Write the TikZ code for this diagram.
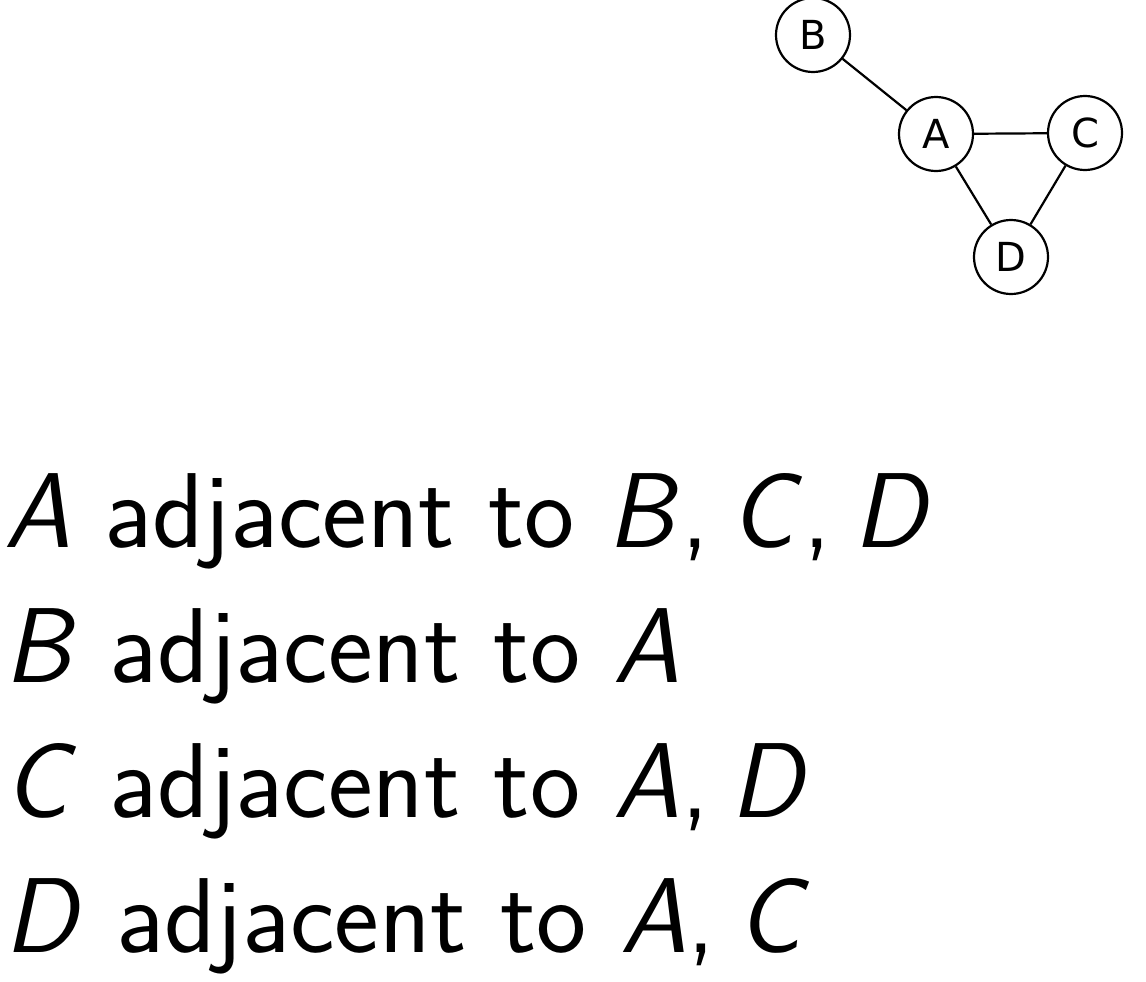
\documentclass[tikz,border=0pt]{standalone}
\usepackage{fontspec}
\setsansfont{Latin Modern Sans}
\newfontfamily\nodefont{DejaVu Sans}
\newcommand{\vx}[1]{{\itshape #1\/}}
\newcommand{\cm}{\kern1pt,\kern22pt}
\begin{document}
\begin{tikzpicture}[x=1pt,y=-1pt,
  vert/.style={circle,draw,line width=2.2pt,minimum size=74pt,inner sep=0pt,font=\nodefont\fontsize{40}{40}\selectfont},
  edge/.style={line width=2.2pt},
  txt/.style={anchor=base west,inner sep=0pt,font=\sffamily\fontsize{106.5}{128}\selectfont}]
\useasboundingbox (0,0) rectangle (1146,982);
\node[vert] (B) at (813,35) {B};
\node[vert] (A) at (936,134) {A};
\node[vert] (C) at (1085,133) {C};
\node[vert] (D) at (1011,257) {D};
\draw[edge] (B) -- (A);
\draw[edge] (A) -- (C);
\draw[edge] (A) -- (D);
\draw[edge] (C) -- (D);
\node[txt] (l1) at (4,547) {\vx{A} adjacent to \vx{B}\cm\vx{C}\cm\vx{D}};
\node[txt] (l2) at (4,682) {\vx{B} adjacent to \vx{A}};
\node[txt] (l3) at (4,817) {\vx{C} adjacent to \vx{A}\cm\vx{D}};
\node[txt] (l4) at (4,952) {\vx{D} adjacent to \vx{A}\cm\vx{C}};
\end{tikzpicture}
\end{document}
